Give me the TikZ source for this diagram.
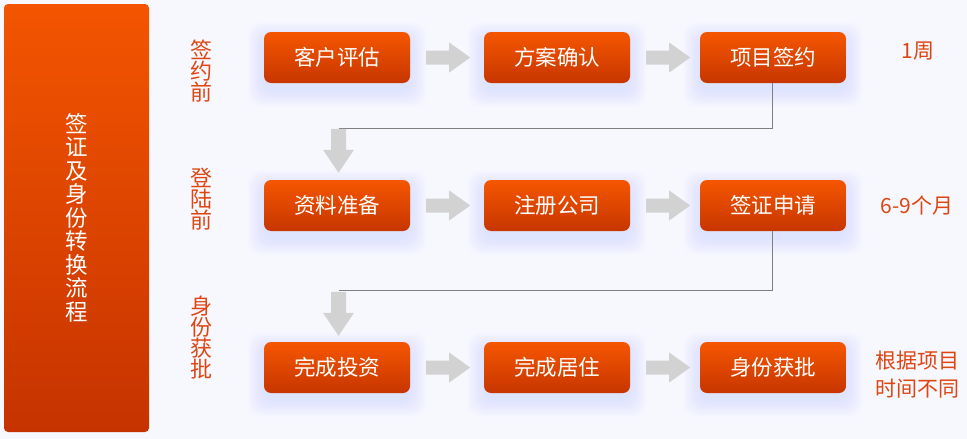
\documentclass[tikz,border=0pt]{standalone}
\usepackage{fontspec}
\newfontfamily\cjk{Noto Sans CJK SC}
\usetikzlibrary{calc}
\definecolor{bgc}{HTML}{F7F8FE}
\definecolor{bartop}{HTML}{F35500}
\definecolor{barbot}{HTML}{C63300}
\definecolor{boxtop}{HTML}{F55600}
\definecolor{boxbot}{HTML}{C73600}
\definecolor{arrgray}{HTML}{D2D2D2}
\definecolor{linec}{HTML}{7F7F7F}
\definecolor{labc}{HTML}{DE4512}
\definecolor{glowc}{HTML}{C4CCFF}
\tikzset{
  box/.style={rounded corners=7pt, top color=boxtop, bottom color=boxbot, draw=none,
    minimum width=146pt, minimum height=51pt, inner sep=0pt, text=white,
    font=\cjk\fontsize{21.5}{22}\selectfont},
  stagelab/.style={text=labc, align=center, inner sep=0pt, font=\cjk\fontsize{22}{21.3}\selectfont},
  timelab/.style={text=labc, align=center, inner sep=0pt, font=\cjk\fontsize{21}{28}\selectfont},
  conn/.style={draw=linec, line width=1pt},
  harrow/.pic={\fill[arrgray] (0,-7) -- (23,-7) -- (23,-15) -- (44,0) -- (23,15) -- (23,7) -- (0,7) -- cycle;},
  varrow/.pic={\fill[arrgray] (0,0) -- (-15.5,-23) -- (-7.5,-23) -- (-7.5,-44) -- (7.5,-44) -- (7.5,-23) -- (15.5,-23) -- cycle;}
}
\begin{document}
\begin{tikzpicture}[x=1pt,y=-1pt]
\fill[bgc] (0,0) rectangle (967,439);
\useasboundingbox (0,0) rectangle (967,439);
% left bar
\node[rounded corners=4pt, top color=bartop, bottom color=barbot, draw=none,
  minimum width=145pt, minimum height=428pt, inner sep=0pt] (bar) at (76.5,218) {};
\node[text=white, align=center, inner sep=0pt, font=\cjk\fontsize{22.5}{23.5}\selectfont] (bartxt) at (77,217.5)
  {签\\证\\及\\身\\份\\转\\换\\流\\程};
% stage labels
\node[stagelab] (s1) at (201,71) {签\\约\\前};
\node[stagelab] (s2) at (201,199) {登\\陆\\前};
\node[stagelab] (s3) at (201,337.5) {身\\份\\获\\批};
% boxes with glow
\foreach \n/\x/\y/\t in {b11/337/57.5/客户评估, b12/557/57.5/方案确认, b13/773/57.5/项目签约,
                        b21/337/205.5/资料准备, b22/557/205.5/注册公司, b23/773/205.5/签证申请,
                        b31/337/367.5/完成投资, b32/557/367.5/完成居住, b33/773/367.5/身份获批} {
  \foreach \k in {1,...,12} {
    \fill[glowc, opacity=0.035, rounded corners=12pt]
      (\x-73-1.4*\k, \y-25.5-1.4*\k+7) rectangle (\x+73+1.4*\k, \y+25.5+1.4*\k+7);
  }
  \node[box] (\n) at (\x,\y) {\t};
}
% horizontal block arrows
\pic at ($(b11.east)+(16,0)$) {harrow};
\pic at ($(b12.east)+(16,0)$) {harrow};
\pic at ($(b21.east)+(16,0)$) {harrow};
\pic at ($(b22.east)+(16,0)$) {harrow};
\pic at ($(b31.east)+(16,0)$) {harrow};
\pic at ($(b32.east)+(16,0)$) {harrow};
% row connectors
\coordinate (t1) at ($(b21.north)+(2,-51)$);
\coordinate (t2) at ($(b31.north)+(2,-51)$);
\draw[conn] ([xshift=-1pt]b13.south) |- (t1);
\draw[conn] ([xshift=-1pt]b23.south) |- (t2);
\pic at ($(b21.north)+(1.5,-7)$) {varrow};
\pic at ($(b31.north)+(1.5,-6)$) {varrow};
% time labels
\node[timelab] (r1) at (918,51) {1周};
\node[timelab] (r2) at (917,205.5) {6-9个月};
\node[timelab] (r3) at (917,375) {根据项目\\时间不同};
\end{tikzpicture}
\end{document}
